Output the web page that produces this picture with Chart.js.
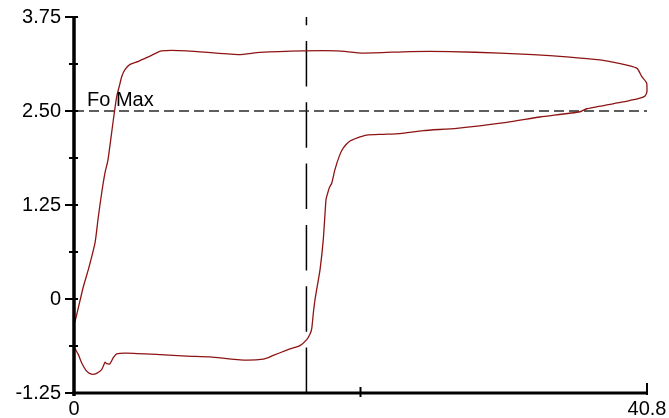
<!DOCTYPE html>
<html>
<head>
<meta charset="utf-8">
<script src="https://cdn.jsdelivr.net/npm/chart.js@4/dist/chart.umd.min.js"></script>
<style>
  html, body { margin: 0; padding: 0; background: #fff; }
  #wrap { width: 669px; height: 418px; }
</style>
</head>
<body>
<div id="wrap"><canvas id="c" width="669" height="418"></canvas></div>
<script>
// Force loop trace (closed curve), x and y sampled along the path
const loopX = [0, 0.14, 0.66, 1.02, 1.50, 1.73, 1.97, 2.21, 2.42, 2.80, 3.04, 3.28, 3.40, 3.63, 3.99, 4.58, 5.41, 6.24, 8.02,
  11.70, 13.24, 16.31, 18.71, 20.58, 23.92, 26.77, 30.33, 32.68, 35.08, 37.45, 38.64, 40.07, 40.42, 40.78, 40.8, 40.66,
  40.30, 39.59, 39.11, 36.51, 36.03, 33.18, 30.81, 27.25, 24.87, 23.21, 22.02, 20.84, 20.13, 19.65, 19.18, 18.89, 18.58,
  18.35, 18.18, 17.99, 17.94, 17.75, 17.52, 17.32, 17.16, 17.04, 16.93, 16.80, 16.57, 16.09, 15.62, 15.15, 14.19, 13.48,
  11.82, 9.68, 8.02, 6.12, 3.75, 3.04, 2.80, 2.56, 2.33, 2.21, 2.09, 1.97, 1.61, 1.25, 0.90, 0.55, 0.31, 0.07, 0, 0];
const loopY = [-0.34, -0.25, 0.16, 0.39, 0.75, 1.09, 1.41, 1.68, 1.85, 2.38, 2.69, 2.87, 2.96, 3.05, 3.12, 3.16, 3.23, 3.30, 3.30,
  3.25, 3.28, 3.30, 3.30, 3.27, 3.29, 3.29, 3.27, 3.25, 3.22, 3.18, 3.14, 3.07, 2.96, 2.87, 2.76, 2.70,
  2.67, 2.64, 2.62, 2.53, 2.49, 2.42, 2.35, 2.27, 2.24, 2.20, 2.19, 2.18, 2.14, 2.10, 2.01, 1.90, 1.72,
  1.54, 1.48, 1.36, 1.32, 0.79, 0.39, 0.17, -0.01, -0.19, -0.39, -0.47, -0.54, -0.62, -0.65, -0.68, -0.75, -0.80,
  -0.81, -0.77, -0.76, -0.74, -0.72, -0.73, -0.78, -0.86, -0.86, -0.84, -0.89, -0.94, -0.99, -1.00, -0.96, -0.85, -0.74, -0.66, -0.62, -0.34];

const foMax = 2.5;
const foMaxLabel = 'Fo Max';
const markerX = 16.55;

const xTickValues = [0, 20.4, 40.8];
const xTickLabels = ['0', '', '40.8'];
const yTickValues = [-1.25, -0.625, 0, 0.625, 1.25, 1.875, 2.5, 3.125, 3.75];
const yTickLabels = ['-1.25', '', '0', '', '1.25', '', '2.50', '', '3.75'];

const X_MIN = 0, X_MAX = 40.8, Y_MIN = -1.25, Y_MAX = 3.75;

const loopPoints = loopX.map((x, i) => ({ x: x, y: loopY[i] }));

// Axis lines, tick marks and the reference label
const axesPlugin = {
  id: 'axesPlugin',
  afterDatasetsDraw(chart) {
    const { ctx, scales: { x, y } } = chart;
    const x0 = x.getPixelForValue(X_MIN);
    const x1 = x.getPixelForValue(X_MAX);
    const y0 = y.getPixelForValue(Y_MIN);
    const y1 = y.getPixelForValue(Y_MAX);
    ctx.save();
    ctx.strokeStyle = '#000';
    ctx.lineCap = 'butt';
    // axis lines
    ctx.lineWidth = 3.5;
    ctx.beginPath();
    ctx.moveTo(x0, y1 - 1);
    ctx.lineTo(x0, y0 + 3);
    ctx.stroke();
    ctx.lineWidth = 3;
    ctx.beginPath();
    ctx.moveTo(x0 - 1.5, y0);
    ctx.lineTo(x1, y0);
    ctx.stroke();
    // y tick marks
    ctx.lineWidth = 2;
    yTickValues.forEach((v, i) => {
      const py = y.getPixelForValue(v);
      const major = yTickLabels[i] !== '';
      ctx.beginPath();
      ctx.moveTo(x0 - (major ? 9 : 5), py);
      ctx.lineTo(x0 + 4, py);
      ctx.stroke();
    });
    // x tick marks
    xTickValues.forEach((v, i) => {
      if (i === 0) return;
      const px = x.getPixelForValue(v);
      ctx.beginPath();
      if (i === xTickValues.length - 1) {
        ctx.moveTo(px, y0 - 10);
        ctx.lineTo(px, y0 + 2);
      } else {
        ctx.moveTo(px, y0 - 6);
        ctx.lineTo(px, y0 + 4);
      }
      ctx.stroke();
    });
    // Fo Max label
    ctx.fillStyle = '#000';
    ctx.font = '20px "Liberation Sans", Arial, sans-serif';
    ctx.textAlign = 'left';
    ctx.textBaseline = 'alphabetic';
    ctx.fillText(foMaxLabel, x0 + 13, y.getPixelForValue(foMax) - 5);
    ctx.restore();
  }
};

new Chart(document.getElementById('c'), {
  type: 'scatter',
  data: {
    datasets: [
      {
        data: loopPoints,
        showLine: true,
        borderColor: '#8e1414',
        borderWidth: 1.3,
        pointRadius: 0,
        tension: 0.2,
        fill: false,
        clip: false,
        order: 0
      },
      {
        data: [{ x: X_MIN, y: foMax }, { x: X_MAX, y: foMax }],
        showLine: true,
        borderColor: '#2a2a2a',
        borderWidth: 1.4,
        borderDash: [10, 5],
        pointRadius: 0,
        order: 1
      },
      {
        data: [{ x: markerX, y: Y_MIN }, { x: markerX, y: Y_MAX }],
        showLine: true,
        borderColor: '#000',
        borderWidth: 1.5,
        borderDash: [45.5, 15.8],
        pointRadius: 0,
        order: 1
      }
    ]
  },
  options: {
    responsive: false,
    animation: false,
    events: [],
    layout: { padding: { top: 17, right: 22, left: 0, bottom: 0 } },
    plugins: { legend: { display: false }, tooltip: { enabled: false } },
    scales: {
      x: {
        type: 'linear',
        min: X_MIN,
        max: X_MAX,
        afterBuildTicks: (s) => { s.ticks = xTickValues.map(v => ({ value: v })); },
        afterFit: (s) => { s.height = 25; s.paddingLeft = 0; s.paddingRight = 0; },
        grid: { display: false, drawTicks: false },
        border: { display: false },
        ticks: {
          autoSkip: false,
          maxRotation: 0,
          padding: 4,
          color: '#000',
          font: { family: '"Liberation Sans", Arial, sans-serif', size: 20 },
          callback: (v, i) => xTickLabels[i]
        }
      },
      y: {
        type: 'linear',
        min: Y_MIN,
        max: Y_MAX,
        afterBuildTicks: (s) => { s.ticks = yTickValues.map(v => ({ value: v })); },
        afterFit: (s) => { s.width = 74; s.paddingTop = 0; s.paddingBottom = 0; },
        grid: { display: false, drawTicks: false },
        border: { display: false },
        ticks: {
          autoSkip: false,
          padding: 13,
          color: '#000',
          font: { family: '"Liberation Sans", Arial, sans-serif', size: 20 },
          callback: (v, i) => yTickLabels[i]
        }
      }
    }
  },
  plugins: [axesPlugin]
});
</script>
</body>
</html>
